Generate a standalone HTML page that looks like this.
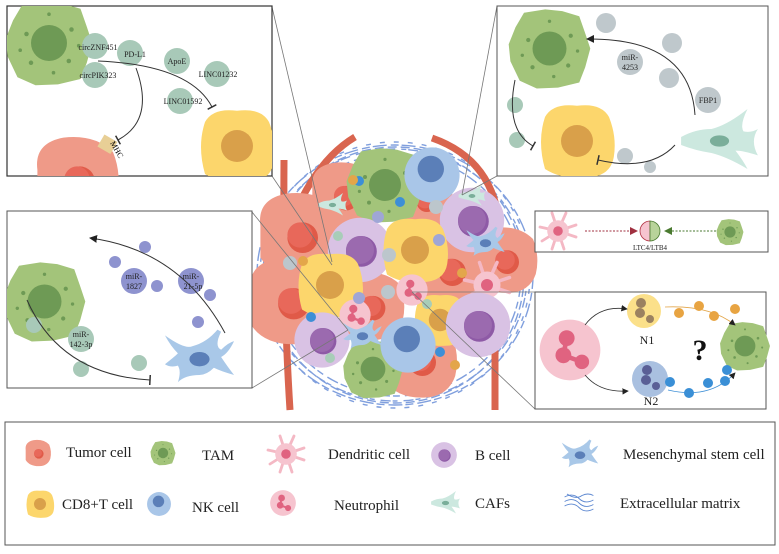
<!DOCTYPE html>
<html><head><meta charset="utf-8"><style>
html,body{margin:0;padding:0;background:#fff;}
svg{display:block;font-family:"Liberation Serif",serif;}
</style></head><body>
<svg width="779" height="554" viewBox="0 0 779 554" xmlns="http://www.w3.org/2000/svg">
<defs>
<symbol id="tumor" viewBox="-50 -50 100 100"><path d="M-44,-10 Q-48,-40 -15,-46 Q20,-50 40,-30 Q50,-5 44,20 Q35,46 5,47 Q-30,48 -44,25 Z" fill="#ef9a88"/><circle cx="3" cy="3" r="17" fill="#e05a48"/><circle cx="0" cy="0" r="14" fill="#e8685a"/></symbol>
<symbol id="tam" viewBox="-50 -50 100 100"><path d="M-40,-25 L-30,-42 L-5,-46 L15,-44 L35,-38 L42,-18 L48,0 L42,22 L35,40 L10,46 L-15,47 L-35,38 L-46,15 L-48,-5 Z" fill="#a3c47a"/><circle cx="0" cy="0" r="20" fill="#6e9a55"/><circle cx="-25" cy="-10" r="2.5" fill="#6e9a55"/><circle cx="25" cy="-15" r="2.5" fill="#6e9a55"/><circle cx="-20" cy="22" r="2.5" fill="#6e9a55"/><circle cx="22" cy="20" r="2.5" fill="#6e9a55"/><circle cx="0" cy="-32" r="2" fill="#6e9a55"/><circle cx="-32" cy="8" r="2" fill="#6e9a55"/><circle cx="5" cy="33" r="2" fill="#6e9a55"/><circle cx="33" cy="3" r="2" fill="#6e9a55"/></symbol>
<symbol id="nk" viewBox="-50 -50 100 100"><circle r="46" fill="#a9c6e8"/><circle cx="-2" cy="-10" r="22" fill="#5b7fb8"/></symbol>
<symbol id="bcell" viewBox="-50 -50 100 100"><circle r="46" fill="#d9c2e4"/><circle cx="2" cy="2" r="22" fill="#8e5aa6"/><circle cx="0" cy="0" r="20" fill="#9b6aaf"/></symbol>
<symbol id="cd8" viewBox="-50 -50 100 100"><path d="M-40,-30 Q-30,-48 0,-44 Q30,-48 40,-30 Q50,-5 46,20 Q42,45 10,46 Q-20,48 -40,35 Q-50,0 -40,-30Z" fill="#fcd66c"/><circle r="20" fill="#d9a04a"/></symbol>
<symbol id="neut" viewBox="-50 -50 100 100"><circle r="46" fill="#f6c4cf"/><circle cx="-5" cy="-18" r="12" fill="#e06380"/><circle cx="-10" cy="8" r="12" fill="#e06380"/><circle cx="18" cy="18" r="11" fill="#e06380"/><path d="M-5,-18 L-10,8 L18,18" stroke="#e06380" stroke-width="7" fill="none"/></symbol>
<symbol id="dc" viewBox="-50 -50 100 100"><g stroke="#f4b8c4" stroke-width="7" stroke-linecap="round"><line x1="0" y1="0" x2="-45" y2="-10"/><line x1="0" y1="0" x2="-40" y2="25"/><line x1="0" y1="0" x2="-15" y2="-45"/><line x1="0" y1="0" x2="20" y2="-45"/><line x1="0" y1="0" x2="45" y2="-15"/><line x1="0" y1="0" x2="45" y2="15"/><line x1="0" y1="0" x2="15" y2="45"/><line x1="0" y1="0" x2="-15" y2="45"/></g><circle r="27" fill="#f6c4cf"/><circle r="12" fill="#e06380"/></symbol>
<symbol id="msc" viewBox="-50 -50 100 100"><path d="M-48,-30 Q-20,-10 -10,-15 Q10,-20 25,-38 L30,-35 Q20,-15 30,-10 Q40,-20 48,-22 Q40,-5 30,0 Q40,15 48,25 Q30,20 20,15 Q10,25 0,25 Q-20,25 -30,35 Q-25,20 -30,12 Q-40,15 -48,10 Q-35,0 -30,-5 Q-40,-15 -48,-30Z" fill="#a9c8e8"/><ellipse cx="0" cy="3" rx="14" ry="10" fill="#5b7fb8"/></symbol>
<symbol id="caf" viewBox="-50 -50 100 100"><path d="M-48,-5 Q-30,-15 -10,-15 Q10,-20 35,-40 Q25,-20 30,-12 Q40,-10 48,-15 Q38,0 48,18 Q30,12 20,12 Q30,25 35,35 Q10,20 -10,15 Q-30,12 -48,5Z" fill="#cce8df"/><ellipse cx="0" cy="0" rx="12" ry="7" fill="#7aae9a"/></symbol>
<symbol id="ecm" viewBox="-50 -50 100 100"><g stroke="#5b86d0" stroke-width="3" fill="none"><path d="M-48,-20 Q-20,-35 0,-15 Q20,5 48,-10"/><path d="M-48,-5 Q-20,-20 0,0 Q20,20 48,5"/><path d="M-48,10 Q-20,-5 0,15 Q20,35 48,20"/><path d="M-40,-30 Q-10,-10 10,-25 Q30,-35 48,-25"/></g></symbol>
<marker id="ar" markerWidth="8" markerHeight="8" refX="7" refY="4" orient="auto"><path d="M0,0 L8,4 L0,8 Z" fill="#222"/></marker>
<marker id="tb" markerWidth="4" markerHeight="10" refX="2" refY="5" orient="auto"><line x1="2" y1="0" x2="2" y2="10" stroke="#333" stroke-width="1.5"/></marker>
</defs>

<!-- central tumor mass -->
<g fill="none" stroke="#6a8fd8" stroke-width="1.4" opacity="0.85">
<ellipse cx="395" cy="275" rx="138" ry="130" stroke-dasharray="14 4 8 3"/>
<ellipse cx="395" cy="275" rx="132" ry="126" stroke-dasharray="10 6 5 2"/>
<ellipse cx="395" cy="275" rx="126" ry="121" stroke-dasharray="7 3 12 5"/>
<ellipse cx="395" cy="275" rx="135" ry="133" stroke-dasharray="5 9"/>
<ellipse cx="395" cy="275" rx="129" ry="128" stroke-dasharray="9 4"/>
</g>
<g stroke="#d9654f" stroke-width="7" fill="none">
<path d="M284,160 Q283,300 290,410"/>
<path d="M355,137 Q300,170 275,275"/>
<path d="M432,138 Q495,160 500,230"/>
<path d="M495,340 L495,410"/>
</g>
<use href="#tumor" x="255" y="190" width="90" height="90"/>
<use href="#tumor" x="308" y="160" width="72" height="72"/>
<use href="#tumor" x="395" y="170" width="60" height="60"/>
<use href="#tumor" x="470" y="225" width="70" height="70"/>
<use href="#tumor" x="245" y="255" width="92" height="92"/>
<use href="#tumor" x="335" y="270" width="72" height="72"/>
<use href="#tumor" x="410" y="230" width="80" height="80"/>
<use href="#tumor" x="380" y="320" width="80" height="80"/>
<use href="#tam" x="345" y="145" width="80" height="80"/>
<use href="#nk" x="402" y="145" width="60" height="60"/>
<use href="#bcell" x="437" y="185" width="70" height="70"/>
<use href="#bcell" x="325" y="215" width="70" height="70"/>
<use href="#cd8" x="380" y="215" width="70" height="70"/>
<use href="#cd8" x="295" y="250" width="70" height="70"/>
<use href="#cd8" x="412" y="292" width="56" height="56"/>
<use href="#dc" x="462" y="260" width="50" height="50"/>
<use href="#bcell" x="443" y="290" width="70" height="70"/>
<use href="#bcell" x="292" y="310" width="60" height="60"/>
<use href="#neut" x="395" y="273" width="34" height="34"/>
<use href="#neut" x="338" y="298" width="34" height="34"/>
<use href="#tam" x="342" y="338" width="62" height="62"/>
<use href="#nk" x="378" y="315" width="60" height="60"/>
<use href="#msc" x="335" y="315" width="55" height="40"/>
<use href="#msc" x="458" y="222" width="55" height="40"/>
<use href="#caf" x="310" y="190" width="45" height="30"/>
<use href="#caf" x="452" y="182" width="40" height="28"/>
<g>
<circle cx="359" cy="181" r="5" fill="#3d8fd6"/><circle cx="400" cy="202" r="5" fill="#3d8fd6"/><circle cx="311" cy="317" r="5" fill="#3d8fd6"/><circle cx="440" cy="352" r="5" fill="#3d8fd6"/>
<circle cx="353" cy="180" r="5" fill="#e3a64a"/><circle cx="303" cy="261" r="5" fill="#e3a64a"/><circle cx="462" cy="273" r="5" fill="#e3a64a"/><circle cx="455" cy="365" r="5" fill="#e3a64a"/>
<circle cx="378" cy="217" r="6" fill="#9fa6d6"/><circle cx="439" cy="240" r="6" fill="#9fa6d6"/><circle cx="359" cy="298" r="6" fill="#9fa6d6"/>
<circle cx="290" cy="263" r="7" fill="#bcc6cc"/><circle cx="389" cy="255" r="7" fill="#bcc6cc"/><circle cx="388" cy="292" r="7" fill="#bcc6cc"/><circle cx="436" cy="207" r="7" fill="#bcc6cc"/>
<circle cx="338" cy="236" r="5" fill="#a8cdb8"/><circle cx="427" cy="304" r="5" fill="#a8cdb8"/><circle cx="330" cy="358" r="5" fill="#a8cdb8"/>
</g>

<!-- connector lines -->
<g stroke="#777" stroke-width="0.8">
<line x1="272" y1="7" x2="332" y2="262"/><line x1="272" y1="176" x2="332" y2="265"/>
<line x1="497" y1="6" x2="462" y2="195"/><line x1="497" y1="176" x2="462" y2="195"/>
<line x1="252" y1="212" x2="348" y2="330"/><line x1="252" y1="388" x2="348" y2="330"/>
<line x1="412" y1="292" x2="535" y2="292"/><line x1="412" y1="292" x2="535" y2="409"/>
</g>

<!-- Box 1 -->
<rect x="7" y="6" width="265" height="170" fill="#fff" stroke="#333" stroke-width="1.2"/>
<svg x="7" y="6" width="265" height="170">
<use href="#tam" x="-3" y="-8" width="90" height="90"/>
<use href="#tumor" x="25" y="128" width="90" height="90"/>
<use href="#cd8" x="190" y="100" width="80" height="80"/>
</svg>
<rect x="100" y="137" width="15" height="14" fill="#e8cf96" transform="rotate(30 107 144)"/>
<g fill="#a8c9b8"><circle cx="95" cy="46" r="13"/><circle cx="95" cy="75" r="13"/><circle cx="130" cy="53" r="13"/><circle cx="177" cy="61" r="13"/><circle cx="217" cy="74" r="13"/><circle cx="180" cy="101" r="13"/></g>
<path d="M98,61 Q190,65 212,107" stroke="#333" fill="none" stroke-width="1" marker-end="url(#tb)"/>
<path d="M136,68 Q155,120 118,140" stroke="#333" fill="none" stroke-width="1" marker-end="url(#tb)"/>
<g font-size="8" fill="#222" text-anchor="middle"><text x="98" y="50">circZNF451</text><text x="98" y="78">circPIK323</text><text x="135" y="57">PD-L1</text><text x="177" y="64">ApoE</text><text x="218" y="77">LINC01232</text><text x="183" y="104">LINC01592</text></g>
<text x="110" y="143" font-size="8" transform="rotate(60 110 143)">MHC</text>

<!-- Box 2 -->
<rect x="497" y="6" width="271" height="170" fill="#fff" stroke="#555" stroke-width="1"/>
<svg x="497" y="6" width="271" height="170">
<use href="#tam" x="10" y="0" width="85" height="85"/>
<use href="#cd8" x="40" y="95" width="80" height="80"/>
<use href="#caf" x="170" y="95" width="105" height="80"/>
</svg>
<g fill="#bfc8cc"><circle cx="606" cy="23" r="10"/><circle cx="672" cy="43" r="10"/><circle cx="669" cy="78" r="10"/><circle cx="630" cy="62" r="13"/><circle cx="708" cy="100" r="13"/><circle cx="625" cy="156" r="8"/><circle cx="650" cy="167" r="6"/></g>
<g fill="#a8c9b8"><circle cx="515" cy="105" r="8"/><circle cx="517" cy="140" r="8"/></g>
<path d="M695,115 Q690,38 587,39" stroke="#333" fill="none" stroke-width="1" marker-end="url(#ar)"/>
<path d="M675,145 Q650,172 598,160" stroke="#333" fill="none" stroke-width="1" marker-end="url(#tb)"/>
<path d="M515,80 Q505,130 533,146" stroke="#333" fill="none" stroke-width="1" marker-end="url(#tb)"/>
<g font-size="8" fill="#222" text-anchor="middle"><text x="630" y="60">miR-</text><text x="630" y="70">4253</text><text x="708" y="103">FBP1</text></g>

<!-- Box 3 -->
<rect x="7" y="211" width="245" height="177" fill="#fff" stroke="#555" stroke-width="1"/>
<svg x="7" y="211" width="245" height="177">
<use href="#tam" x="-5" y="48" width="85" height="85"/>
<use href="#msc" x="140" y="110" width="105" height="72"/>
</svg>
<g fill="#8e93cf"><circle cx="145" cy="247" r="6"/><circle cx="115" cy="262" r="6"/><circle cx="157" cy="286" r="6"/><circle cx="210" cy="295" r="6"/><circle cx="198" cy="322" r="6"/><circle cx="134" cy="281" r="13"/><circle cx="191" cy="281" r="13"/></g>
<g fill="#a8c9b8"><circle cx="34" cy="325" r="8"/><circle cx="81" cy="339" r="13"/><circle cx="81" cy="369" r="8"/><circle cx="139" cy="363" r="8"/></g>
<path d="M225,333 Q180,250 90,238" stroke="#333" fill="none" stroke-width="1" marker-end="url(#ar)"/>
<path d="M27,300 Q60,375 150,380" stroke="#333" fill="none" stroke-width="1" marker-end="url(#tb)"/>
<g font-size="8" fill="#222" text-anchor="middle"><text x="134" y="279">miR-</text><text x="134" y="289">1827</text><text x="191" y="279">miR-</text><text x="193" y="289">21-5p</text><text x="81" y="337">miR-</text><text x="81" y="347">142-3p</text></g>

<!-- LTC box -->
<rect x="535" y="211" width="233" height="41" fill="#fff" stroke="#555" stroke-width="1"/>
<use href="#dc" x="538" y="211" width="40" height="40"/>
<use href="#tam" x="716" y="218" width="28" height="28"/>
<path d="M650,221 A10,10 0 0 0 650,241 Z" fill="#f6c4cf" stroke="#b03040" stroke-width="0.8"/>
<path d="M650,221 A10,10 0 0 1 650,241 Z" fill="#b8d39a" stroke="#4a7a30" stroke-width="0.8"/>
<line x1="585" y1="231" x2="632" y2="231" stroke="#a03040" stroke-width="1" stroke-dasharray="2 1.5"/><path d="M630,227 L638,231 L630,235 Z" fill="#a03040"/>
<line x1="672" y1="231" x2="716" y2="231" stroke="#4a7a30" stroke-width="1" stroke-dasharray="2 1.5"/><path d="M672,227 L664,231 L672,235 Z" fill="#4a7a30"/>
<text x="650" y="250" font-size="7" text-anchor="middle" fill="#222">LTC4/LTB4</text>

<!-- N box -->
<rect x="535" y="292" width="231" height="117" fill="#fff" stroke="#555" stroke-width="1"/>
<use href="#neut" x="537" y="317" width="66" height="66"/>
<circle cx="644" cy="311" r="17" fill="#fbe08a"/>
<g fill="#9b8160"><circle cx="641" cy="303" r="5"/><circle cx="640" cy="313" r="5"/><circle cx="650" cy="319" r="4"/></g>
<circle cx="650" cy="379" r="18" fill="#a9c0e0"/>
<g fill="#5a5f96"><circle cx="647" cy="370" r="5"/><circle cx="646" cy="380" r="5"/><circle cx="656" cy="386" r="4"/></g>
<use href="#tam" x="719" y="320" width="52" height="52"/>
<path d="M585,325 Q600,305 627,309" stroke="#333" fill="none" stroke-width="0.8" marker-end="url(#ar)"/>
<path d="M585,375 Q600,393 628,391" stroke="#333" fill="none" stroke-width="0.8" marker-end="url(#ar)"/>
<path d="M665,307 Q710,305 735,325" stroke="#e3a64a" fill="none" stroke-width="0.8" marker-end="url(#ar)"/>
<path d="M668,390 Q710,400 735,373" stroke="#3d8fd6" fill="none" stroke-width="0.8" marker-end="url(#ar)"/>
<g fill="#e8a442"><circle cx="679" cy="313" r="5"/><circle cx="699" cy="306" r="5"/><circle cx="714" cy="316" r="5"/><circle cx="735" cy="309" r="5"/></g>
<g fill="#3a8fd6"><circle cx="670" cy="382" r="5"/><circle cx="689" cy="393" r="5"/><circle cx="708" cy="383" r="5"/><circle cx="725" cy="381" r="5"/><circle cx="727" cy="370" r="5"/></g>
<text x="700" y="360" font-size="30" font-weight="bold" text-anchor="middle" fill="#111">?</text>
<text x="647" y="344" font-size="12" text-anchor="middle" fill="#222">N1</text>
<text x="651" y="405" font-size="12" text-anchor="middle" fill="#222">N2</text>

<!-- Legend -->
<rect x="5" y="422" width="770" height="123" fill="#fff" stroke="#555" stroke-width="1"/>
<use href="#tumor" x="24" y="437" width="28" height="32"/>
<use href="#tam" x="150" y="440" width="26" height="26"/>
<use href="#dc" x="266" y="434" width="40" height="40"/>
<use href="#bcell" x="430" y="440" width="28" height="30"/>
<use href="#msc" x="550" y="435" width="60" height="38"/>
<use href="#cd8" x="25" y="489" width="30" height="30"/>
<use href="#nk" x="146" y="488" width="26" height="32"/>
<use href="#neut" x="269" y="488" width="28" height="30"/>
<use href="#caf" x="423" y="488" width="45" height="30"/>
<use href="#ecm" x="555" y="488" width="48" height="30"/>
<g font-size="15" fill="#222">
<text x="66" y="457">Tumor cell</text><text x="202" y="460">TAM</text><text x="328" y="459">Dendritic cell</text><text x="475" y="460">B cell</text><text x="623" y="459">Mesenchymal stem cell</text>
<text x="62" y="509">CD8+T cell</text><text x="192" y="512">NK cell</text><text x="334" y="510">Neutrophil</text><text x="475" y="508">CAFs</text><text x="620" y="508">Extracellular matrix</text>
</g>
</svg>
</body></html>
